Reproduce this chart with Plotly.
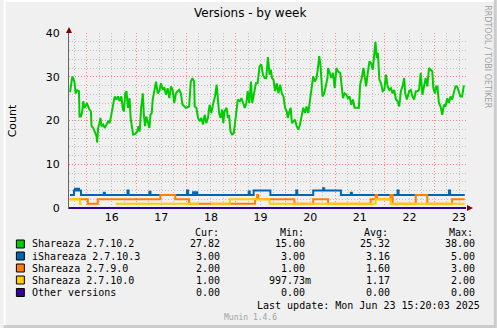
import pandas as pd
import plotly.graph_objects as go

W, H = 497, 328
PL, PR, PT, PB = 66, 466, 33, 209  # plot area in pixels


def px(x):
    return (x - PL) / (PR - PL)


def py(y):
    return (PB - y) / (PB - PT)


START = pd.Timestamp("2025-06-15 15:20:00")
SPAN_H = 192

# ---- data (hours since START, values) ----
green_h = [0.5, 1.6, 2.6, 3.2, 4.0, 4.8, 5.1, 5.8, 6.4, 6.9, 7.4, 8.0, 8.6, 9.3, 9.9, 10.6, 10.9, 11.7,
           12.5, 13.3, 13.6, 14.1, 14.7, 15.2, 15.7, 16.5, 17.3, 18.1, 18.9, 19.7, 20.5, 21.3, 22.1,
           22.9, 23.7, 24.5, 25.3, 26.1, 26.6, 27.2, 27.8, 28.5, 29.3, 29.8, 30.4, 31.0, 32.0, 33.0,
           33.6, 34.2, 34.9, 35.7, 36.2, 36.8, 37.4, 38.1, 38.9, 39.4, 40.0, 40.5, 41.3, 42.1, 42.9,
           43.7, 44.5, 45.3, 46.1, 46.9, 47.7, 48.5, 49.3, 50.1, 50.9, 51.7, 52.5, 53.3, 54.1, 54.9,
           56.5, 58.1, 58.9, 59.7, 60.5, 60.8, 61.6, 62.4, 63.2, 64.0, 64.8, 65.6, 66.4, 67.2, 68.0,
           68.8, 69.8, 70.6, 71.4, 72.0, 72.6, 73.3, 74.1, 74.6, 75.2, 76.2, 76.8, 77.4, 78.1, 78.9,
           79.7, 80.3, 81.0, 81.6, 82.6, 83.4, 84.2, 85.0, 85.8, 86.4, 87.2, 88.0, 88.6, 89.6, 90.4,
           91.2, 92.2, 93.0, 93.8, 94.6, 95.4, 96.2, 97.0, 97.6, 98.2, 98.9, 99.7, 100.5, 101.3,
           102.1, 102.9, 103.7, 104.5, 105.3, 105.8, 106.4, 107.2, 107.8, 108.5, 109.3, 110.1, 110.9,
           111.7, 112.5, 113.3, 114.1, 114.9, 115.7, 116.5, 117.3, 118.1, 118.9, 119.7, 120.5, 121.0,
           121.6, 122.1, 122.6, 123.4, 124.2, 125.0, 125.3, 126.1, 126.9, 127.7, 128.5, 129.3, 130.1,
           131.2, 131.8, 132.5, 133.3, 134.1, 134.9, 135.7, 136.5, 137.3, 138.1, 140.2, 140.8, 141.6,
           142.4, 143.0, 143.7, 144.5, 145.3, 146.1, 146.9, 147.7, 148.2, 148.8, 149.4, 150.1, 150.9,
           151.7, 152.5, 153.3, 154.1, 154.9, 155.7, 156.5, 157.3, 158.1, 158.9, 159.7, 160.5, 161.3,
           162.1, 162.6, 163.4, 164.5, 165.3, 166.1, 166.9, 167.7, 168.5, 169.3, 170.1, 170.9, 171.7,
           172.5, 173.3, 174.1, 174.9, 175.7, 176.2, 177.0, 177.6, 178.2, 178.9, 179.7, 180.5, 181.3,
           182.1, 182.9, 183.7, 184.5, 185.3, 186.1, 186.9, 187.7, 188.5, 189.3, 190.1, 190.9, 191.4]
green_v = [26.5, 30.1, 28.9, 26.2, 26.9, 26.7, 20.9, 20.9, 22.1, 24.4, 22.9, 23.2, 24.0, 22.9, 22.5, 22.1,
           18.7, 18.3, 17.5, 16.4, 15.0, 18.3, 19.4, 20.6, 18.7, 19.1, 18.3, 19.1, 19.8, 19.4, 21.3,
           23.6, 25.5, 24.8, 25.5, 24.4, 25.5, 22.5, 22.1, 26.2, 26.7, 22.9, 25.1, 20.6, 18.3, 16.8,
           16.9, 17.5, 18.7, 17.5, 22.9, 26.2, 21.3, 18.7, 20.9, 19.4, 18.3, 21.3, 21.7, 24.8, 27.4,
           28.9, 26.2, 26.7, 28.5, 27.0, 27.6, 25.9, 27.4, 25.1, 27.8, 27.0, 24.0, 26.2, 26.7, 27.0,
           26.2, 23.6, 22.9, 23.2, 28.9, 29.7, 28.9, 23.2, 22.9, 20.6, 19.8, 20.6, 19.1, 21.3, 19.4,
           20.6, 23.6, 21.7, 24.0, 25.5, 28.2, 25.1, 21.7, 20.6, 22.5, 19.4, 22.1, 22.9, 20.6, 21.3,
           17.5, 16.8, 17.1, 19.4, 22.5, 24.8, 24.4, 25.1, 24.0, 22.9, 24.0, 26.7, 24.0, 28.9, 24.0,
           27.0, 28.5, 28.5, 32.4, 32.8, 30.5, 29.7, 29.7, 34.5, 30.5, 31.6, 29.7, 29.3, 26.7, 28.5,
           26.2, 28.2, 26.2, 25.5, 22.9, 22.1, 20.6, 21.7, 22.9, 19.4, 19.8, 20.2, 18.7, 17.9, 19.1,
           20.9, 22.9, 21.7, 23.2, 21.7, 24.4, 27.0, 30.1, 28.9, 29.7, 32.4, 34.7, 32.8, 28.9, 25.5,
           26.2, 27.8, 29.7, 32.0, 30.9, 29.7, 30.9, 27.4, 32.0, 31.2, 30.9, 28.5, 25.1, 26.2, 25.9,
           25.1, 25.5, 23.6, 24.8, 22.9, 22.9, 28.2, 29.7, 32.0, 30.1, 27.8, 30.9, 33.5, 33.1, 31.6,
           35.5, 38.0, 34.3, 35.5, 29.3, 28.5, 26.7, 27.0, 30.5, 27.8, 27.0, 27.4, 26.2, 27.0, 24.8,
           24.4, 23.2, 26.7, 27.8, 29.7, 26.2, 24.8, 26.7, 27.0, 25.5, 24.8, 26.7, 26.7, 27.0, 30.9,
           25.9, 27.8, 29.7, 27.8, 32.0, 31.6, 31.2, 27.4, 26.2, 27.8, 27.8, 24.0, 23.2, 21.3, 23.6,
           23.2, 25.1, 24.0, 25.5, 24.8, 26.7, 27.8, 27.8, 26.7, 25.5, 25.5, 27.8, 27.82]

blue_h = [0.5, 2.4, 2.9, 3.4, 4.3, 4.8, 5.8, 16.8, 17.3, 28.3, 28.8, 38.9, 39.4, 57.1, 57.6, 60.0, 60.5,
          61.5, 62.0, 86.9, 87.4, 89.3, 97.4, 109.9, 110.4, 118.1, 122.9, 123.4, 131.5, 136.3, 136.8,
          158.9, 159.4, 183.8, 184.3, 191.4]
blue_v = [3, 4, 4.4, 4, 4.4, 4, 3, 3.5, 3, 4, 3, 3.7, 3, 4, 3, 3.6, 3,
          3.6, 3, 3.8, 3, 4, 3, 4, 3, 4, 4.5, 4, 3, 3.5, 3,
          4, 3, 4, 3, 3]

orange_h = [0.5, 8.2, 9.1, 13.9, 44.2, 51.4, 58.1, 90.0, 91.0, 91.5, 109.0, 118.1, 125.3, 145.9, 148.3,
            149.0, 155.5, 156.5, 167.7, 173.3, 185.3, 191.4]
orange_v = [2, 2, 1, 2, 3, 2, 1, 2, 3, 2, 1, 2, 1, 2, 3,
            2, 3, 1, 3, 1, 2, 2]

yellow_h = [0.5, 5.3, 6.2, 6.2, 22.6, 62.9, 62.9, 68.6, 77.8, 97.0, 148.3, 155.5, 191.4]
yellow_v = [2, 1, 1, None, 1, 1, None, 1, 2, 1, 2, 1, 1]

other_h = [0.0, 192.0]
other_v = [0, 0]

names = ["Shareaza 2.7.10.2", "iShareaza 2.7.10.3", "Shareaza 2.7.9.0", "Shareaza 2.7.10.0", "Other versions"]
colors = ["#00CC00", "#0066B3", "#FF8000", "#FFCC00", "#330099"]
cur_vals = ["27.82", "3.00", "2.00", "1.00", "0.00"]
min_vals = ["15.00", "3.00", "1.00", "997.73m", "0.00"]
avg_vals = ["25.32", "3.16", "1.60", "1.17", "0.00"]
max_vals = ["38.00", "5.00", "3.00", "2.00", "0.00"]
col_heads = ["Cur:", "Min:", "Avg:", "Max:"]
y_ticks = [0, 10, 20, 30, 40]


def t(hours):
    return [START + pd.Timedelta(hours=h) for h in hours]


fig = go.Figure()
series = [(green_h, green_v, "linear"), (blue_h, blue_v, "hv"), (orange_h, orange_v, "hv"),
          (yellow_h, yellow_v, "hv"), (other_h, other_v, "linear")]
for (hh, vv, shp), nm, col in zip(series, names, colors):
    fig.add_trace(go.Scatter(x=t(hh), y=vv, mode="lines", name=nm,
                             line=dict(color=col, width=2, shape=shp),
                             connectgaps=False, showlegend=False, hoverinfo="skip"))

GRID_RED = "rgba(255,110,110,0.8)"
GRID_GRAY = "rgba(180,180,180,0.8)"
DOT = "1px,2px"
FONT = "DejaVu Sans"
MONO = "DejaVu Sans Mono"

fig.update_layout(
    width=W, height=H,
    margin=dict(l=PL, r=W - PR, t=PT, b=H - PB, pad=0),
    paper_bgcolor="#F0F0F0", plot_bgcolor="#FFFFFF",
    font=dict(family=FONT, size=11, color="#000"),
    xaxis=dict(type="date", range=[START, START + pd.Timedelta(hours=SPAN_H)],
               tick0="2025-06-16", dtick=86400000, ticklabelmode="period", tickformat="%d",
               ticks="", showgrid=True, gridcolor=GRID_RED, griddash=DOT, gridwidth=1,
               minor=dict(dtick=21600000, tick0="2025-06-16", showgrid=True, gridcolor=GRID_GRAY,
                          griddash=DOT, gridwidth=1),
               showline=False, zeroline=False, tickfont=dict(size=11, family=FONT)),
    yaxis=dict(range=[-(PB - 208) / 4.375, 40], tickvals=y_ticks, ticks="",
               showgrid=True, gridcolor=GRID_RED, griddash=DOT, gridwidth=1,
               minor=dict(dtick=2, tick0=0, showgrid=True, gridcolor=GRID_GRAY, griddash=DOT, gridwidth=1),
               showline=True, linecolor="#666", linewidth=1, zeroline=False,
               ticklabelstandoff=6, tickfont=dict(size=11, family=FONT),
               title=dict(text="Count", font=dict(size=11, family=FONT), standoff=26)),
)

shapes = []
# frame
shapes.append(dict(type="rect", xref="paper", yref="paper", x0=px(0), x1=px(W), y0=py(H), y1=py(0),
                   line=dict(width=0), fillcolor="#CCCCCC", layer="below"))
shapes.append(dict(type="rect", xref="paper", yref="paper", x0=px(0), x1=px(494), y0=py(325), y1=py(0),
                   line=dict(width=0), fillcolor="#F0F0F0", layer="below"))
shapes.append(dict(type="rect", xref="paper", yref="paper", x0=px(0), x1=px(2), y0=py(325), y1=py(0),
                   line=dict(width=0), fillcolor="#FFFFFF", layer="below"))
shapes.append(dict(type="rect", xref="paper", yref="paper", x0=px(0), x1=px(494), y0=py(2), y1=py(0),
                   line=dict(width=0), fillcolor="#FFFFFF", layer="below"))
# axis arrows
ARROW = "#7F0000"
shapes.append(dict(type="path", xref="paper", yref="paper", fillcolor=ARROW, line=dict(width=0),
                   path=f"M {px(63)} {py(33)} L {px(69)} {py(33)} L {px(66)} {py(27)} Z"))
shapes.append(dict(type="path", xref="paper", yref="paper", fillcolor=ARROW, line=dict(width=0),
                   path=f"M {px(467)} {py(205)} L {px(467)} {py(211)} L {px(473)} {py(208)} Z"))

ann = []
ann.append(dict(text="Versions - by week", x=px(248), y=py(13), xref="paper", yref="paper",
                showarrow=False, xanchor="center", yanchor="middle",
                font=dict(family=FONT, size=12, color="#000")))
ann.append(dict(text="RRDTOOL / TOBI OETIKER", x=px(488), y=py(57), xref="paper", yref="paper",
                showarrow=False, textangle=90, xanchor="center", yanchor="middle",
                font=dict(family=FONT, size=8, color="#A0A0A0")))

row_y = [244, 256, 268, 280, 292.5]
head_x = [190.5, 276.5, 361.5, 446.5]
col_right = [226, 312, 397.5, 483]
for hx, hd in zip(head_x, col_heads):
    ann.append(dict(text=hd, x=px(hx), y=py(232), xref="paper", yref="paper", showarrow=False,
                    xanchor="left", yanchor="middle", font=dict(family=MONO, size=10, color="#000")))
for i, (nm, col) in enumerate(zip(names, colors)):
    yy = row_y[i]
    shapes.append(dict(type="rect", xref="paper", yref="paper", x0=px(13), x1=px(21),
                       y0=py(yy + 4), y1=py(yy - 4), fillcolor=col, line=dict(color="#000", width=1)))
    ann.append(dict(text=nm, x=px(26.5), y=py(yy), xref="paper", yref="paper", showarrow=False,
                    xanchor="left", yanchor="middle", font=dict(family=MONO, size=10, color="#000")))
    for cx, vals in zip(col_right, [cur_vals, min_vals, avg_vals, max_vals]):
        v = vals[i]
        txt = v if v.endswith("m") else v + "\u00a0"
        ann.append(dict(text=txt, x=px(cx), y=py(yy), xref="paper", yref="paper", showarrow=False,
                        xanchor="right", yanchor="middle", font=dict(family=MONO, size=10, color="#000")))
ann.append(dict(text="Last update: Mon Jun 23 15:20:03 2025", x=px(482), y=py(305), xref="paper",
                yref="paper", showarrow=False, xanchor="right", yanchor="middle",
                font=dict(family=MONO, size=10, color="#000")))
ann.append(dict(text="Munin 1.4.6", x=px(249), y=py(317), xref="paper", yref="paper", showarrow=False,
                xanchor="center", yanchor="middle", font=dict(family=MONO, size=8, color="#A0A0A0")))

fig.update_layout(shapes=shapes, annotations=ann)
fig.write_html("out.html")
